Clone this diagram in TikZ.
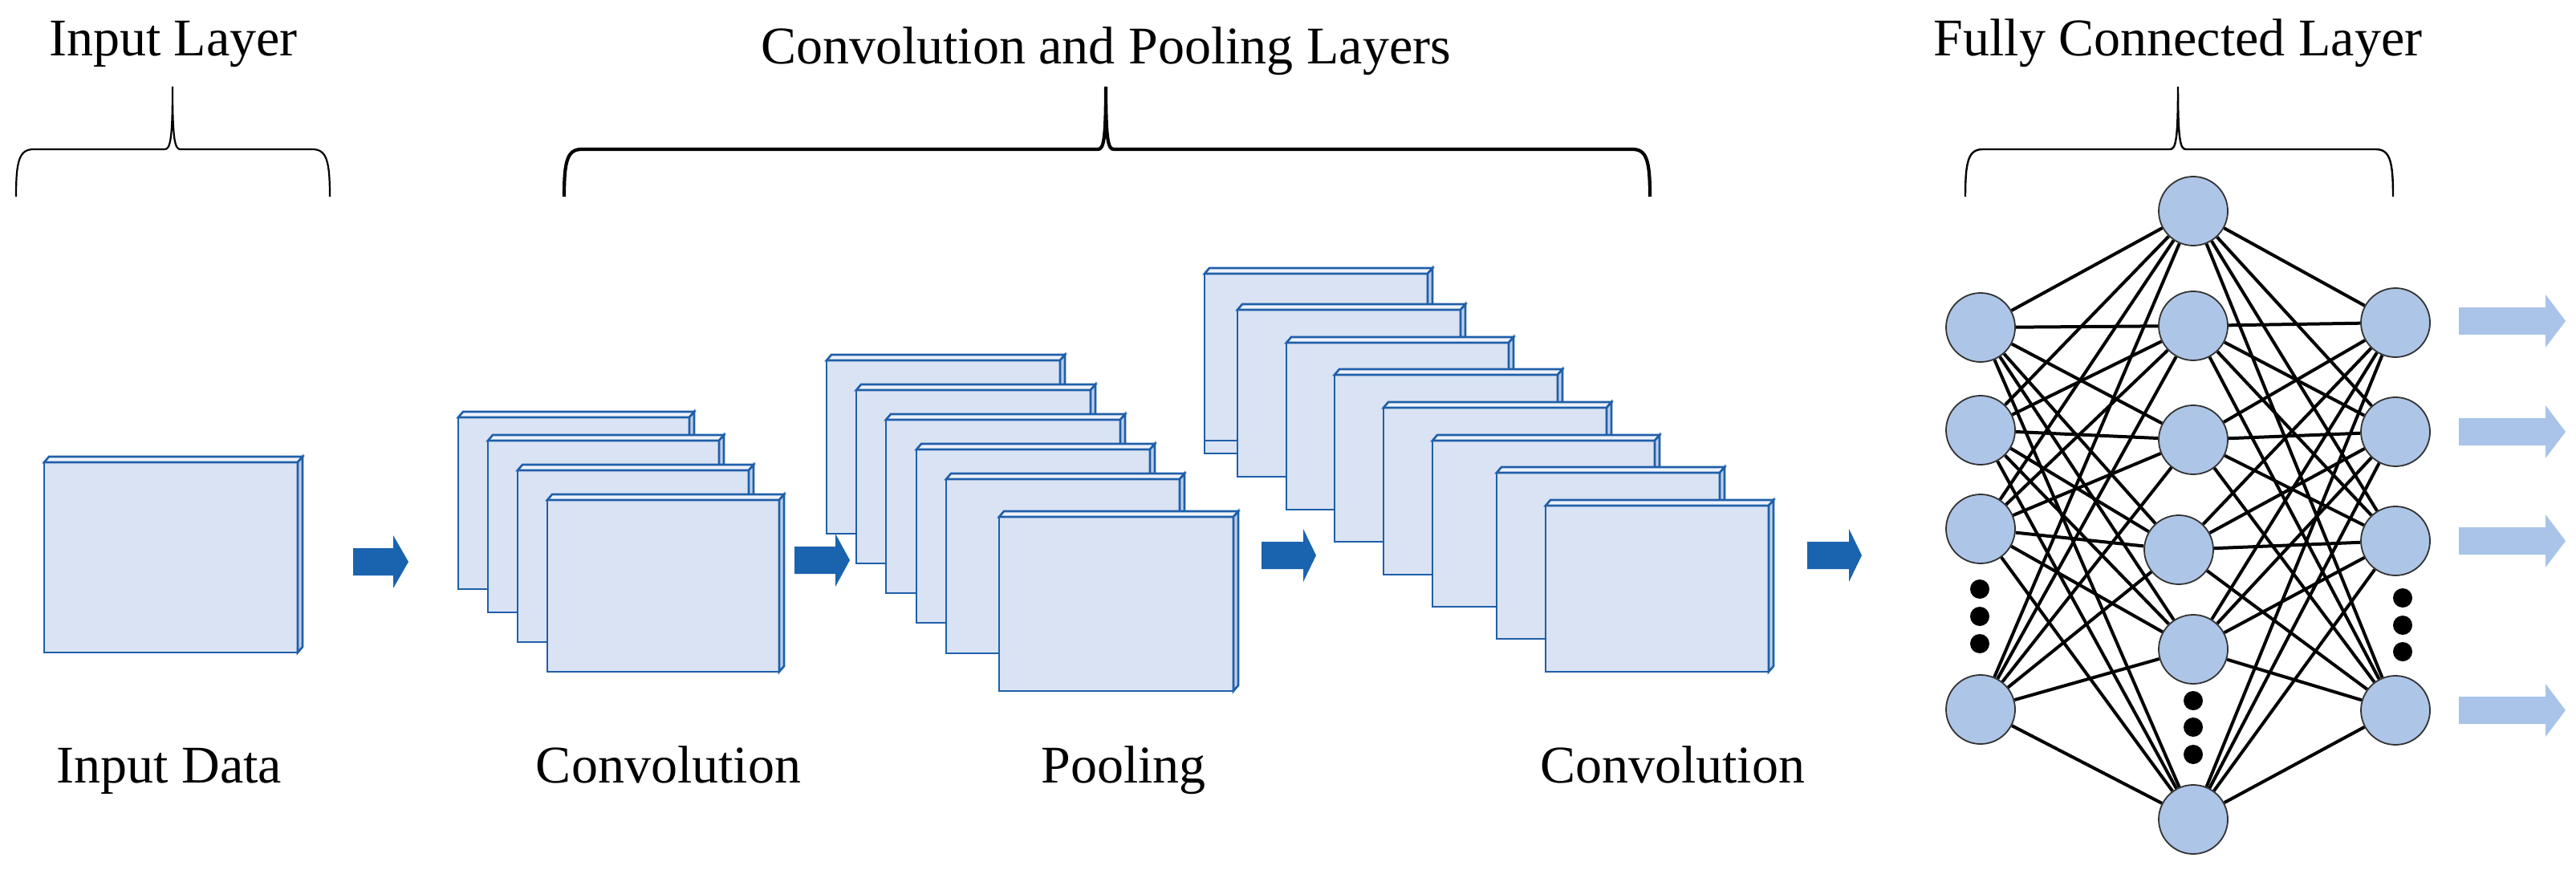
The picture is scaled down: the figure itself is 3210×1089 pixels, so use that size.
\documentclass[tikz,border=0pt]{standalone}
\usepackage{fontspec}
\setmainfont{Liberation Serif}
\usetikzlibrary{backgrounds}
\definecolor{slabfill}{HTML}{DAE3F3}
\definecolor{slabtop}{HTML}{EEF2FA}
\definecolor{slabline}{HTML}{1F5FAA}
\definecolor{darkarrow}{HTML}{1A63AF}
\definecolor{lightarrow}{HTML}{A9C4E8}
\definecolor{neuron}{HTML}{ADC5E7}
\tikzset{
  slab/.style={draw=slabline,line width=2.6pt,line join=miter},
  neuronstyle/.style={circle,draw=black!80,line width=1.8pt,fill=neuron,minimum size=86pt,inner sep=0pt},
  edge/.style={line width=4pt,black},
  dot/.style={circle,fill=black,minimum size=24pt,inner sep=0pt},
  lbl/.style={font=\fontsize{66}{70}\selectfont,anchor=base},
  brace/.style={line width=2.2pt,black},
}
% \slabbox{x1}{y1}{x2}{y2}
\newcommand\slabbox[4]{%
  \fill[slabfill] (#1,#2) rectangle (#3,#4);
  \draw[slab,fill=slabtop] (#1,#2) -- (#1+6,#2-7) -- (#3+6,#2-7) -- (#3,#2) -- cycle;
  \draw[slab,fill=slabfill!85!slabline] (#3,#2) -- (#3+6,#2-7) -- (#3+6,#4-7) -- (#3,#4) -- cycle;
  \draw[slab] (#1,#2) rectangle (#3,#4);
}
% \darrow{x0}{xhead}{x1}{ycenter}{color}
\newcommand\fatarrow[5]{%
  \fill[#5] (#1,#4-17) -- (#2,#4-17) -- (#2,#4-33) -- (#3,#4) -- (#2,#4+33) -- (#2,#4+17) -- (#1,#4+17) -- cycle;
}
% \mybrace{x0}{xt}{x1}{thickness}
\newcommand\mybrace[4]{%
  \draw[brace,line width=#4] (#1,245) .. controls (#1,200) and (#1+4,186) .. (#1+22,186)
     -- (#2-10,186) .. controls (#2-3,186) and (#2,176) .. (#2,108)
     .. controls (#2,176) and (#2+3,186) .. (#2+10,186)
     -- (#3-22,186) .. controls (#3-4,186) and (#3,200) .. (#3,245);
}
\begin{document}
\begin{tikzpicture}[x=1pt,y=-1pt]
\useasboundingbox (0,0) rectangle (3210,1089);

% titles
\node[lbl] (tIn) at (216,70) {Input Layer};
\node[lbl] (tConv) at (1378,80) {Convolution and Pooling Layers};
\node[lbl] (tFC) at (2714,70) {Fully Connected Layer};

% braces
\mybrace{20}{215}{411}{2.2pt}
\mybrace{703}{1378}{2056}{4.2pt}
\mybrace{2449}{2714}{2982}{2.4pt}

% input data
\slabbox{55}{576}{371}{813}

% conv stack 1
\slabbox{571}{520}{859}{734}
\slabbox{608}{549}{896}{763}
\slabbox{645}{586}{933}{800}
\slabbox{682}{623}{971}{837}

% pooling stack
\slabbox{1030}{449}{1321}{665}
\slabbox{1067}{486}{1359}{702}
\slabbox{1104}{523}{1396}{739}
\slabbox{1142}{560}{1433}{776}
\slabbox{1179}{597}{1470}{814}
\slabbox{1245}{644}{1537}{861}

% conv stack 2
\slabbox{1501}{341}{1779}{565}
\draw[slab] (1501,549) -- (1542,549);
\slabbox{1542}{386}{1820}{594}
\slabbox{1603}{427}{1880}{635}
\slabbox{1663}{467}{1941}{675}
\slabbox{1724}{508}{2002}{716}
\slabbox{1785}{549}{2062}{756}
\slabbox{1865}{589}{2143}{796}
\slabbox{1926}{630}{2204}{837}

% dark arrows
\fatarrow{440}{490}{509}{700}{darkarrow}
\fatarrow{990}{1041}{1059}{698}{darkarrow}
\fatarrow{1572}{1624}{1640}{692}{darkarrow}
\fatarrow{2252}{2304}{2320}{692}{darkarrow}

% bottom labels
\node[lbl] (lIn) at (211,975) {Input Data};
\node[lbl] (lC1) at (833,975) {Convolution};
\node[lbl] (lP) at (1400,975) {Pooling};
\node[lbl] (lC2) at (2084,975) {Convolution};

% network
\node[neuronstyle] (L1) at (2468,408) {};
\node[neuronstyle] (L2) at (2468,536) {};
\node[neuronstyle] (L3) at (2468,659) {};
\node[neuronstyle] (L4) at (2468,884) {};
\node[neuronstyle] (M1) at (2733,263) {};
\node[neuronstyle] (M2) at (2733,406) {};
\node[neuronstyle] (M3) at (2733,548) {};
\node[neuronstyle] (M4) at (2715,685) {};
\node[neuronstyle] (M5) at (2733,809) {};
\node[neuronstyle] (M6) at (2733,1021) {};
\node[neuronstyle] (R1) at (2985,402) {};
\node[neuronstyle] (R2) at (2985,538) {};
\node[neuronstyle] (R3) at (2985,674) {};
\node[neuronstyle] (R4) at (2985,885) {};
\begin{scope}[on background layer]
\foreach \l in {L1,L2,L3,L4}
  \foreach \m in {M1,M2,M3,M4,M5,M6}
    \draw[edge] (\l) -- (\m);
\foreach \r in {R1,R2,R3,R4}
  \foreach \m in {M1,M2,M3,M4,M5,M6}
    \draw[edge] (\m) -- (\r);
\end{scope}

% dots
\node[dot] (dl1) at (2467,734) {};
\node[dot] (dl2) at (2467,768) {};
\node[dot] (dl3) at (2467,802) {};
\node[dot] (dm1) at (2733,873) {};
\node[dot] (dm2) at (2733,906) {};
\node[dot] (dm3) at (2733,940) {};
\node[dot] (dr1) at (2994,745) {};
\node[dot] (dr2) at (2994,779) {};
\node[dot] (dr3) at (2994,812) {};

% output arrows
\fatarrow{3064}{3172}{3197}{400}{lightarrow}
\fatarrow{3064}{3172}{3197}{538}{lightarrow}
\fatarrow{3064}{3172}{3197}{674}{lightarrow}
\fatarrow{3064}{3172}{3197}{885}{lightarrow}
\end{tikzpicture}
\end{document}
